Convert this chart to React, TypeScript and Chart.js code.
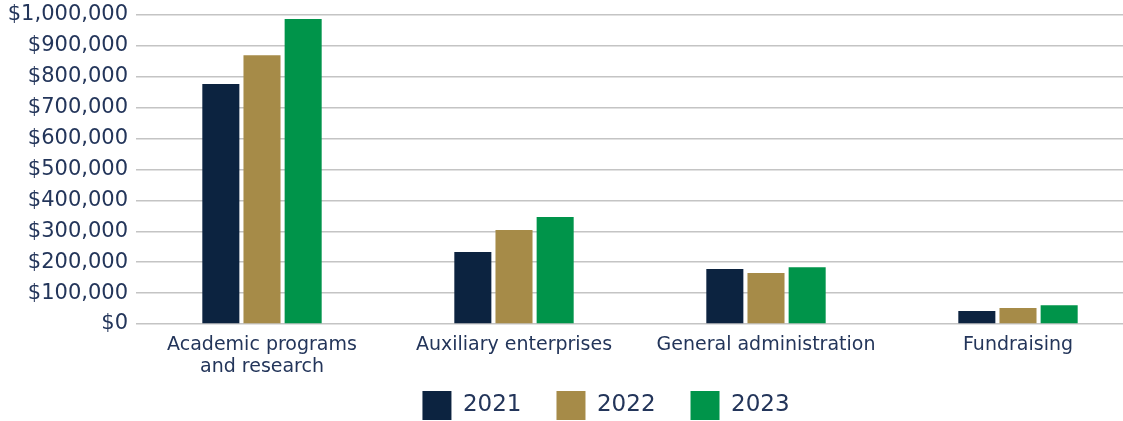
import React, { useEffect, useRef } from "react";
import { Chart, registerables } from "chart.js";

Chart.register(...registerables);

const categories: (string | string[])[] = [
  ["Academic programs", "and research"],
  "Auxiliary enterprises",
  "General administration",
  "Fundraising",
];
const seriesNames = ["2021", "2022", "2023"];
const values2021 = [777000, 233000, 178000, 42000];
const values2022 = [870000, 304000, 165000, 52000];
const values2023 = [987000, 346000, 184000, 61000];
const seriesColors = ["#0c2340", "#a68b48", "#00944a"];
const yMin = 0;
const yMax = 1000000;
const yStep = 100000;

const TEXT = "#23355a";
const FONT = "'DejaVu Sans', sans-serif";
const LEGEND_GAP = 35;
const LEGEND_HEIGHT = 31;
const LEGEND_SHIFT_X = 34;

const legendHeightPlugin = {
  id: "legendHeight",
  beforeUpdate(chart: any) {
    const lg = chart.legend;
    if (lg && !lg.__patched) {
      const orig = lg.fit;
      lg.fit = function (this: any) {
        orig.call(this);
        this.height = LEGEND_HEIGHT;
      };
      lg.__patched = true;
    }
  },
  afterLayout(chart: any) {
    const lg = chart.legend;
    if (lg) {
      lg.top -= LEGEND_GAP - 1;
      lg.left += LEGEND_SHIFT_X;
      lg.right += LEGEND_SHIFT_X;
    }
  },
};

export default function App() {
  const ref = useRef<HTMLCanvasElement | null>(null);
  useEffect(() => {
    if (!ref.current) return;
    const chart = new Chart(ref.current, {
      type: "bar",
      data: {
        labels: categories,
        datasets: [values2021, values2022, values2023].map((d, i) => ({
          label: seriesNames[i],
          data: d,
          backgroundColor: seriesColors[i],
          barPercentage: 0.9,
          categoryPercentage: 0.49,
        })),
      },
      plugins: [legendHeightPlugin],
      options: {
        responsive: false,
        animation: false,
        layout: { padding: { top: 15, right: 6, bottom: 0, left: 0 } },
        plugins: {
          tooltip: { enabled: false },
          legend: {
            position: "bottom",
            labels: {
              boxWidth: 29,
              boxHeight: 29,
              padding: LEGEND_GAP,
              color: TEXT,
              font: { family: FONT, size: 23 },
            },
          },
        },
        scales: {
          x: {
            grid: { display: false, drawTicks: false },
            border: { display: false },
            ticks: {
              color: TEXT,
              font: { family: FONT, size: 19, lineHeight: 1.15 },
              padding: 10,
              maxRotation: 0,
              autoSkip: false,
            },
            afterFit: (s: any) => {
              s.height = 66;
            },
          },
          y: {
            min: yMin,
            max: yMax,
            grid: { color: "#c4c4c4", lineWidth: 1.5, drawTicks: false },
            border: { display: false },
            ticks: {
              stepSize: yStep,
              color: TEXT,
              padding: 8,
              font: { family: FONT, size: 21 },
              callback: (v: any) => "$" + Number(v).toLocaleString("en-US"),
            },
            afterFit: (s: any) => {
              s.width = 136;
              s.paddingTop = 0;
              s.paddingBottom = 0;
            },
          },
        },
      },
    });
    return () => chart.destroy();
  }, []);
  return (
    <div style={{ position: "fixed", left: 0, top: 0, width: 1150, height: 421, background: "#fff" }}>
      <canvas ref={ref} width={1150} height={421} style={{ width: 1150, height: 421 }} />
    </div>
  );
}
